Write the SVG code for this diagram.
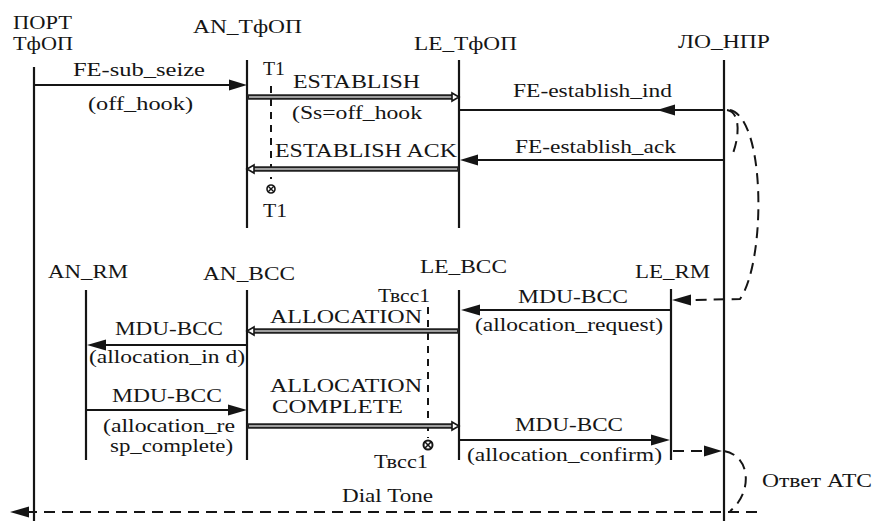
<svg xmlns="http://www.w3.org/2000/svg" width="878" height="521" viewBox="0 0 878 521">
<style>
.t{font-family:"Liberation Serif","Times New Roman",serif;font-size:19px;fill:#151515}
.ll{stroke:#151515;stroke-width:2.2;fill:none}
.msg{stroke:#151515;stroke-width:2;fill:none}
.dbl{stroke:#202020;stroke-width:5.5;fill:none}
.dbli{stroke:#c8c8c8;stroke-width:1.4;fill:none}
.dash{stroke:#151515;stroke-width:2;fill:none;stroke-dasharray:11,7}
.tdash{stroke:#151515;stroke-width:2;fill:none;stroke-dasharray:7,6}
.ah{fill:#151515;stroke:none}
.oh{fill:#fff;stroke:#151515;stroke-width:1.6}
</style>
<rect width="878" height="521" fill="#fff"/>
<g class="t">
<g id="port-tfop">
<line class="ll" x1="34" y1="67" x2="34" y2="521"/>
<text x="13" y="29" textLength="59" lengthAdjust="spacingAndGlyphs">ПОРТ</text>
<text x="13" y="50" textLength="60" lengthAdjust="spacingAndGlyphs">ТфОП</text>
</g>
<g id="an-tfop">
<line class="ll" x1="247" y1="60" x2="247" y2="228"/>
<text x="193" y="33" textLength="109" lengthAdjust="spacingAndGlyphs">AN_ТфОП</text>
</g>
<g id="le-tfop">
<line class="ll" x1="459" y1="60" x2="459" y2="228"/>
<text x="414" y="50" textLength="103" lengthAdjust="spacingAndGlyphs">LE_ТфОП</text>
</g>
<g id="lo-npr">
<line class="ll" x1="724" y1="60" x2="724" y2="521"/>
<text x="678" y="48" textLength="92" lengthAdjust="spacingAndGlyphs">ЛО_НПР</text>
</g>
<g id="an-rm">
<line class="ll" x1="86" y1="290" x2="86" y2="460"/>
<text x="48" y="278" textLength="80" lengthAdjust="spacingAndGlyphs">AN_RM</text>
</g>
<g id="an-bcc">
<line class="ll" x1="247" y1="290" x2="247" y2="460"/>
<text x="203" y="280" textLength="92" lengthAdjust="spacingAndGlyphs">AN_BCC</text>
</g>
<g id="le-bcc">
<line class="ll" x1="459" y1="290" x2="459" y2="460"/>
<text x="420" y="273" textLength="87" lengthAdjust="spacingAndGlyphs">LE_BCC</text>
</g>
<g id="le-rm">
<line class="ll" x1="671" y1="289" x2="671" y2="460"/>
<text x="635" y="278" textLength="75" lengthAdjust="spacingAndGlyphs">LE_RM</text>
</g>
<g id="timer-t1">
<text x="263" y="75" textLength="22" lengthAdjust="spacingAndGlyphs">T1</text>
<line class="tdash" x1="271" y1="86" x2="271" y2="179"/>
<circle cx="271" cy="189" r="4" fill="#fff" stroke="#151515" stroke-width="1.6"/>
<path d="M268.2,186.2 L273.8,191.8 M273.8,186.2 L268.2,191.8" stroke="#151515" stroke-width="1.4"/>
<text x="263" y="217" textLength="24" lengthAdjust="spacingAndGlyphs">T1</text>
</g>
<g id="timer-tbcc1">
<text x="378" y="302" textLength="52" lengthAdjust="spacingAndGlyphs">Твсс1</text>
<line class="tdash" x1="428" y1="307" x2="428" y2="438"/>
<circle cx="428" cy="445" r="4.5" fill="#fff" stroke="#151515" stroke-width="2"/>
<path d="M425,442 L431,448 M431,442 L425,448" stroke="#151515" stroke-width="1.6"/>
<text x="374" y="468" textLength="54" lengthAdjust="spacingAndGlyphs">Твсс1</text>
</g>
<g id="connectors">
<line class="msg" x1="34" y1="85" x2="232" y2="85"/>
<polygon class="ah" points="247,85 229,79.5 229,90.5"/>
<text x="73" y="76" textLength="132" lengthAdjust="spacingAndGlyphs">FE-sub_seize</text>
<text x="88" y="110" textLength="105" lengthAdjust="spacingAndGlyphs">(off_hook)</text>
<line class="dbl" x1="247" y1="97" x2="453" y2="97"/>
<line class="dbli" x1="249" y1="97" x2="453" y2="97"/>
<path class="oh" d="M452,93 L459,97 L452,101 Z"/>
<text x="293" y="88" textLength="127" lengthAdjust="spacingAndGlyphs">ESTABLISH</text>
<text x="292" y="119" textLength="130" lengthAdjust="spacingAndGlyphs">(Ss=off_hook</text>
<line class="msg" x1="724" y1="110" x2="459" y2="110"/>
<polygon class="ah" points="657,110 675,104.5 675,115.5"/>
<text x="513" y="97" textLength="159" lengthAdjust="spacingAndGlyphs">FE-establish_ind</text>
<line class="msg" x1="724" y1="160" x2="470" y2="160"/>
<polygon class="ah" points="460,160 478,154.5 478,165.5"/>
<text x="515" y="153" textLength="161" lengthAdjust="spacingAndGlyphs">FE-establish_ack</text>
<line class="dbl" x1="459" y1="169" x2="253" y2="169"/>
<line class="dbli" x1="457" y1="169" x2="253" y2="169"/>
<path class="oh" d="M254,165 L247,169 L254,173 Z"/>
<text x="275" y="157" textLength="182" lengthAdjust="spacingAndGlyphs">ESTABLISH ACK</text>
<path class="dash" d="M727,110 C741,112 740,138 731,158"/>
<path class="dash" d="M730,110 C766,118 766,262 740,299 L690,300"/>
<polygon class="ah" points="672,300 691,294.5 691,305.5"/>
<line class="msg" x1="671" y1="310" x2="475" y2="310"/>
<polygon class="ah" points="461,310 480,304.5 480,315.5"/>
<text x="518" y="303" textLength="110" lengthAdjust="spacingAndGlyphs">MDU-BCC</text>
<text x="475" y="331" textLength="188" lengthAdjust="spacingAndGlyphs">(allocation_request)</text>
<line class="dbl" x1="459" y1="331" x2="253" y2="331"/>
<line class="dbli" x1="457" y1="331" x2="253" y2="331"/>
<path class="oh" d="M254,327 L247,331 L254,335 Z"/>
<text x="270" y="323" textLength="152" lengthAdjust="spacingAndGlyphs">ALLOCATION</text>
<line class="msg" x1="247" y1="345" x2="100" y2="345"/>
<polygon class="ah" points="87,345 106,339.5 106,350.5"/>
<text x="115" y="335" textLength="108" lengthAdjust="spacingAndGlyphs">MDU-BCC</text>
<text x="89" y="363" textLength="156" lengthAdjust="spacingAndGlyphs">(allocation_in d)</text>
<line class="msg" x1="86" y1="410" x2="235" y2="410"/>
<polygon class="ah" points="247,410 228,404.5 228,415.5"/>
<text x="112" y="402" textLength="110" lengthAdjust="spacingAndGlyphs">MDU-BCC</text>
<text x="103" y="432" textLength="132" lengthAdjust="spacingAndGlyphs">(allocation_re</text>
<text x="110" y="452" textLength="123" lengthAdjust="spacingAndGlyphs">sp_complete)</text>
<line class="dbl" x1="247" y1="426" x2="453" y2="426"/>
<line class="dbli" x1="249" y1="426" x2="453" y2="426"/>
<path class="oh" d="M452,422 L459,426 L452,430 Z"/>
<text x="270" y="392" textLength="152" lengthAdjust="spacingAndGlyphs">ALLOCATION</text>
<text x="272" y="413" textLength="131" lengthAdjust="spacingAndGlyphs">COMPLETE</text>
<line class="msg" x1="459" y1="440" x2="656" y2="440"/>
<polygon class="ah" points="670,440 651,434.5 651,445.5"/>
<text x="515" y="431" textLength="108" lengthAdjust="spacingAndGlyphs">MDU-BCC</text>
<text x="467" y="461" textLength="195" lengthAdjust="spacingAndGlyphs">(allocation_confirm)</text>
<line class="dash" x1="673" y1="451" x2="706" y2="451"/>
<polygon class="ah" points="722,451 704,445.5 704,456.5"/>
<path class="dash" d="M724,451 C752,456 752,494 730,511"/>
<text x="762" y="487" textLength="110" lengthAdjust="spacingAndGlyphs">Ответ АТС</text>
<line class="dash" x1="757" y1="512" x2="26" y2="512"/>
<polygon class="ah" points="10,512 29,506.5 29,517.5"/>
<text x="342" y="502" textLength="91" lengthAdjust="spacingAndGlyphs">Dial Tone</text>
</g>
</g>
</svg>
